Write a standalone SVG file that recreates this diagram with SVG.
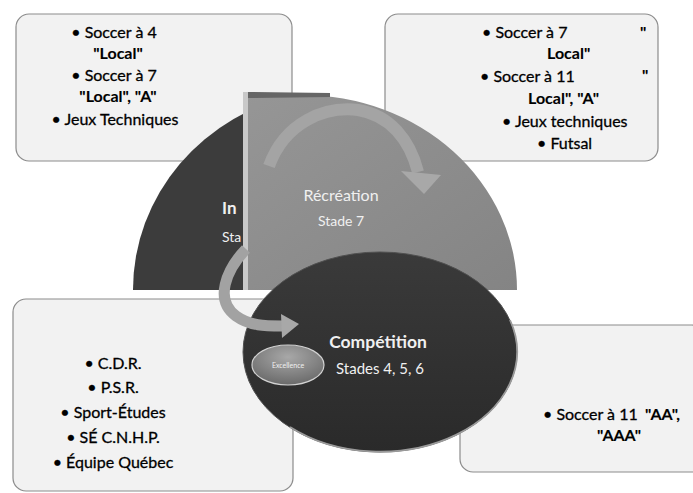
<svg xmlns="http://www.w3.org/2000/svg" width="693" height="493" viewBox="0 0 693 493">
<defs>
<style>
.box{fill:#f2f2f2;stroke:#8c8c8c;stroke-width:1.2}
.t{font-family:Lato,"Liberation Sans",sans-serif;font-size:16px;fill:#000;stroke:#000;stroke-width:0.3}
.b{font-weight:bold;stroke-width:0.1}
.c{text-anchor:middle}
.w{font-family:Lato,"Liberation Sans",sans-serif;fill:#f0f0f0}
</style>
<linearGradient id="gGray" x1="0" y1="0" x2="1" y2="1">
<stop offset="0" stop-color="#969696"/>
<stop offset="1" stop-color="#848484"/>
</linearGradient>
<linearGradient id="gDark" x1="0" y1="0" x2="0" y2="1">
<stop offset="0" stop-color="#3a3a3a"/>
<stop offset="1" stop-color="#2a2a2a"/>
</linearGradient>
<radialGradient id="gExc" cx="0.5" cy="0.3" r="0.7">
<stop offset="0" stop-color="#a8a8a8"/>
<stop offset="1" stop-color="#6a6a6a"/>
</radialGradient>
</defs>
<rect width="693" height="493" fill="#ffffff"/>

<g id="box-top-left">
<rect class="box" x="16" y="14" width="276" height="147" rx="13"/>
<text class="t c" x="114" y="38">• Soccer à 4</text>
<text class="t b c" x="118" y="59">"Local"</text>
<text class="t c" x="114" y="81">• Soccer à 7</text>
<text class="t b c" x="118" y="102">"Local", "A"</text>
<text class="t c" x="115" y="125">• Jeux Techniques</text>
</g>

<g id="box-top-right">
<rect class="box" x="385" y="14" width="273" height="147" rx="13"/>
<text class="t" x="482" y="38">• Soccer à 7</text>
<text class="t b" x="640" y="38">"</text>
<text class="t b" x="547" y="59">Local"</text>
<text class="t" x="480" y="82">• Soccer à 11</text>
<text class="t b" x="642" y="81">"</text>
<text class="t b" x="528" y="104">Local", "A"</text>
<text class="t" x="502" y="127">• Jeux techniques</text>
<text class="t" x="537" y="149">• Futsal</text>
</g>

<g id="box-bottom-left">
<rect class="box" x="13" y="299" width="280" height="192" rx="13"/>
<text class="t c" x="113" y="369">• C.D.R.</text>
<text class="t c" x="113" y="393">• P.S.R.</text>
<text class="t c" x="113" y="418">• Sport-Études</text>
<text class="t c" x="113" y="443">• SÉ C.N.H.P.</text>
<text class="t c" x="113" y="468">• Équipe Québec</text>
</g>

<g id="box-bottom-right">
<rect class="box" x="460" y="325" width="245" height="147" rx="13"/>
<text class="t" x="543" y="420">• Soccer à 11</text>
<text class="t b" x="645" y="420">"AA",</text>
<text class="t b" x="597" y="441">"AAA"</text>
</g>

<g id="initiation">
<path d="M133,290 A210,200 0 0 1 300,94 L300,290 Z" fill="#3c3c3c"/>
<text class="w b" x="222" y="214" font-size="17">In</text>
<text class="w" x="222" y="242" font-size="14">Sta</text>
</g>

<g id="recreation">
<path d="M243,290 L243,93 L301,95 A215,195 0 0 1 517,290 Z" fill="url(#gGray)"/>
<path d="M247,92 L330,93 L330,97 L247,98 Z" fill="#666666"/>
<rect x="243" y="92" width="5" height="198" fill="#c9c9c9"/>
<text class="w c" x="341" y="201" font-size="16" fill="#ededed">Récréation</text>
<text class="w c" x="341" y="226" font-size="14" fill="#e8e8e8">Stade 7</text>
</g>

<g id="competition">
<ellipse cx="380" cy="352" rx="137" ry="100" fill="url(#gDark)" stroke="#505050" stroke-width="1"/>
<path d="M510,320 A137,100 0 0 1 290,427" fill="none" stroke="#9a9a9a" stroke-width="1.8"/>
<text class="w c b" x="378" y="348" font-size="17.5" fill="#f4f4f4">Compétition</text>
<text class="w c" x="380" y="374" font-size="15" fill="#e8e8e8">Stades 4, 5, 6</text>
</g>

<g id="excellence">
<ellipse cx="288" cy="365" rx="36" ry="20" fill="url(#gExc)" stroke="#d2d2d2" stroke-width="1.2"/>
<text class="w c" x="288" y="368" font-size="7" fill="#d6d6d6">Excellence</text>
</g>

<g id="connectors">
<path d="M269,166 C285,122 325,106 358,110 C390,115 410,140 418,172" fill="none" stroke="#a4a4a4" stroke-width="12"/>
<polygon points="401,171 441,175 424,194" fill="#a8a8a8"/>
<path d="M246,249 C226,270 214,300 236,316 C250,326 265,326 282,326" fill="none" stroke="#a2a2a2" stroke-width="11"/>
<polygon points="281,314 282,338 299,324" fill="#a8a8a8"/>
</g>
</svg>
